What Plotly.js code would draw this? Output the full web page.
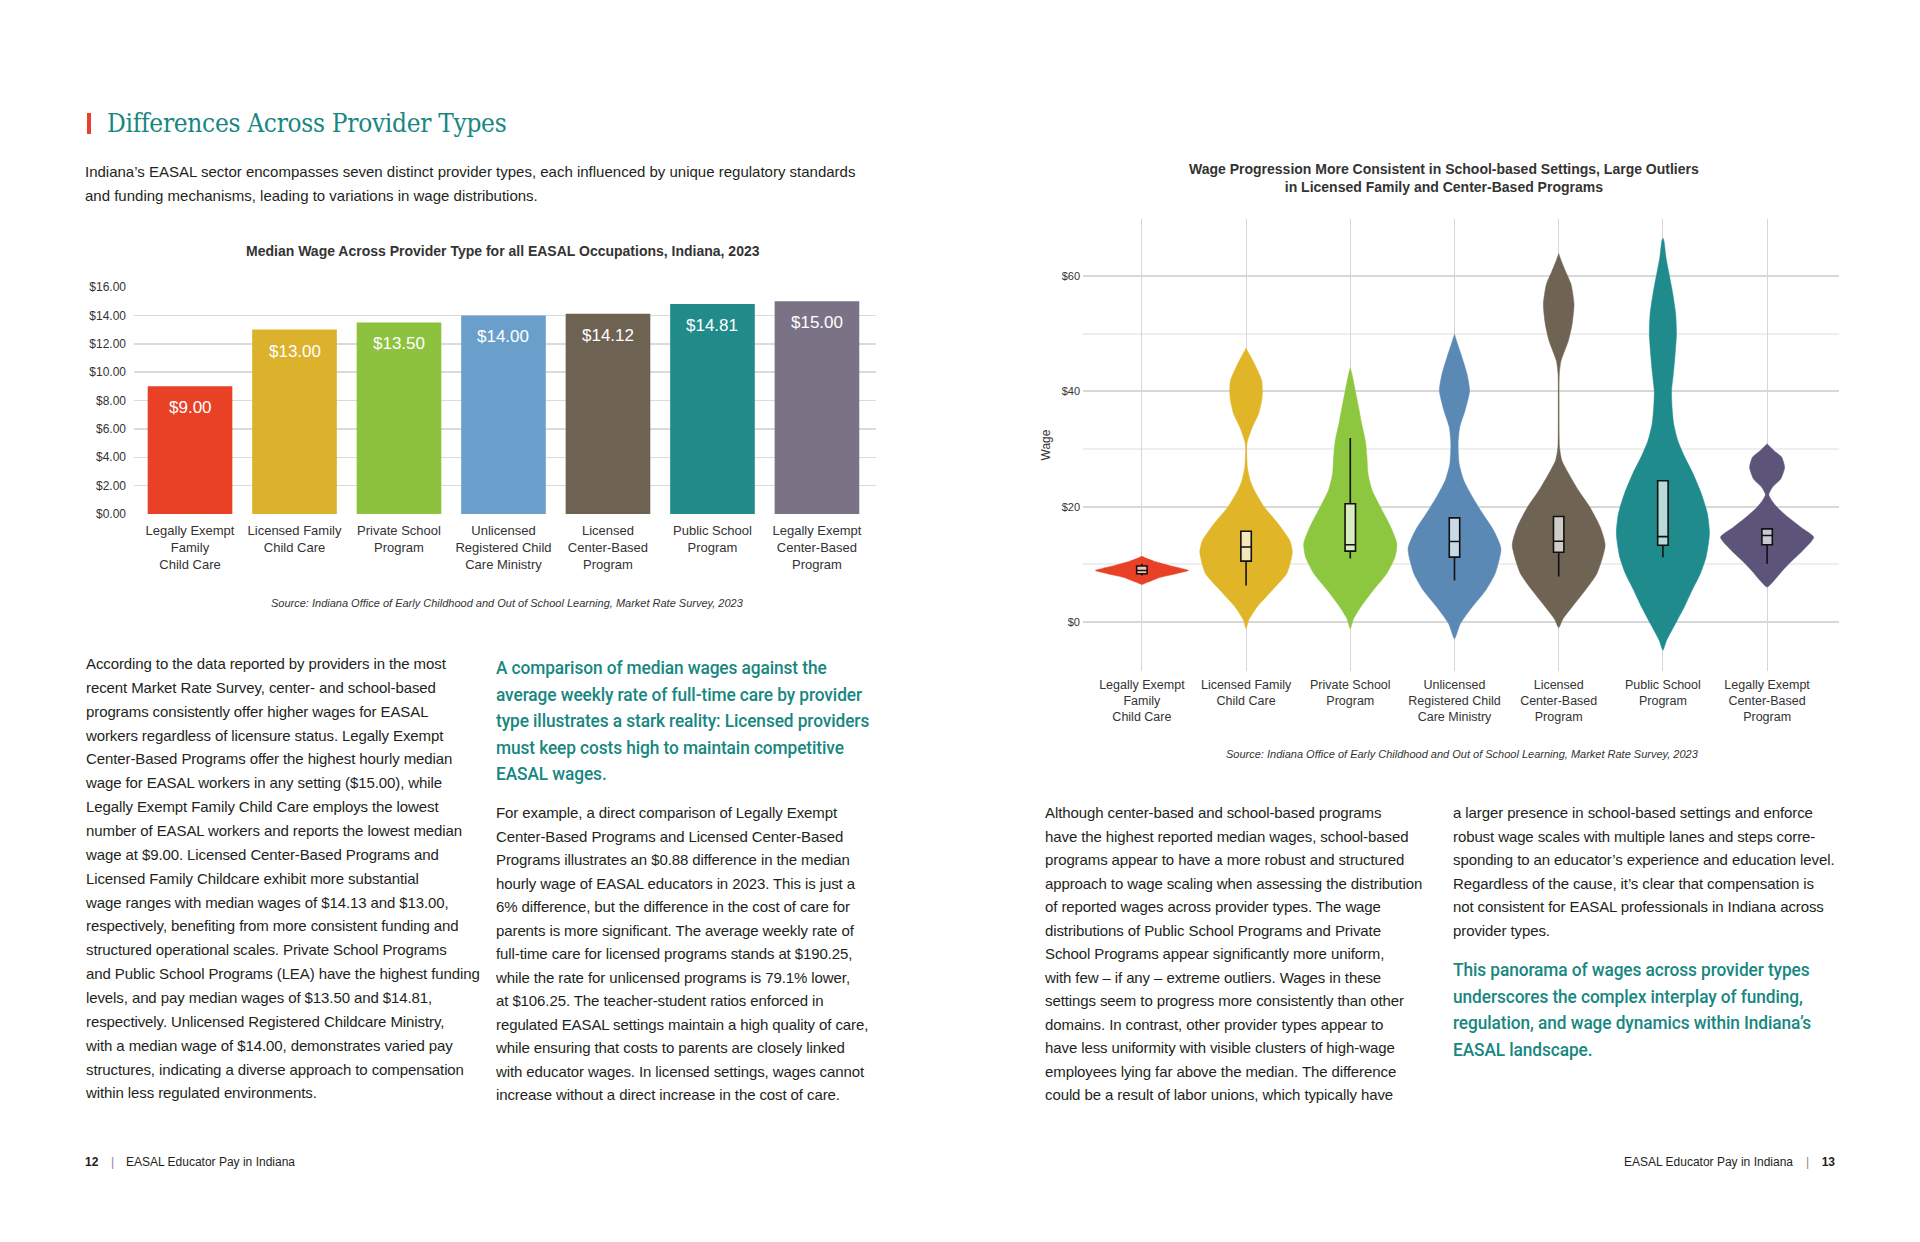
<!DOCTYPE html>
<html>
<head>
<meta charset="utf-8">
<script src="https://cdn.plot.ly/plotly-3.0.1.min.js"></script>
<style>
  html, body { margin: 0; padding: 0; background: #ffffff; }
  #page { position: relative; width: 1920px; height: 1242px; overflow: hidden; background: #fff;
          font-family: "Liberation Sans", Arial, sans-serif; color: #231f20; }
  .abs { position: absolute; white-space: nowrap; }
  .body { font-size: 15px; letter-spacing: -0.1px; }
  .quote { font-family: "Roboto", "Liberation Sans", sans-serif; font-weight: 500; font-size: 19px; color: #17877f;
           letter-spacing: -0.1px; transform: scaleX(0.91); transform-origin: 0 0; }
  .title { font-family: "DejaVu Serif Condensed", "DejaVu Serif", serif; font-size: 26px; color: #17877f; letter-spacing: -0.3px; }
  .foot { font-size: 12px; color: #231f20; line-height: 14px; }
</style>
</head>
<body>
<div id="page">
  <div class="abs" style="left:87px; top:113px; width:4px; height:21px; background:#e8402a;"></div>
  <div class="abs title" style="left:107px; top:106px; line-height:34px;">Differences Across Provider Types</div>
  <div class="abs" style="left:85px; top:160px; line-height:24px; font-size:15px; letter-spacing:0px;">Indiana’s EASAL sector encompasses seven distinct provider types, each influenced by unique regulatory standards<br>and funding mechanisms, leading to variations in wage distributions.</div>

  <div id="barchart" class="abs" style="left:0px; top:220px; width:960px; height:420px;"></div>
  <div id="violinchart" class="abs" style="left:980px; top:140px; width:940px; height:660px;"></div>

  <div class="abs body" style="left:86px; top:652px; line-height:23.86px;">According to the data reported by providers in the most<br>recent Market Rate Survey, center- and school-based<br>programs consistently offer higher wages for EASAL<br>workers regardless of licensure status. Legally Exempt<br>Center-Based Programs offer the highest hourly median<br>wage for EASAL workers in any setting ($15.00), while<br>Legally Exempt Family Child Care employs the lowest<br>number of EASAL workers and reports the lowest median<br>wage at $9.00. Licensed Center-Based Programs and<br>Licensed Family Childcare exhibit more substantial<br>wage ranges with median wages of $14.13 and $13.00,<br>respectively, benefiting from more consistent funding and<br>structured operational scales. Private School Programs<br>and Public School Programs (LEA) have the highest funding<br>levels, and pay median wages of $13.50 and $14.81,<br>respectively. Unlicensed Registered Childcare Ministry,<br>with a median wage of $14.00, demonstrates varied pay<br>structures, indicating a diverse approach to compensation<br>within less regulated environments.</div>

  <div class="abs quote" style="left:496px; top:655px; line-height:26.6px;">A comparison of median wages against the<br>average weekly rate of full-time care by provider<br>type illustrates a stark reality: Licensed providers<br>must keep costs high to maintain competitive<br>EASAL wages.</div>

  <div class="abs body" style="left:496px; top:801px; line-height:23.5px;">For example, a direct comparison of Legally Exempt<br>Center-Based Programs and Licensed Center-Based<br>Programs illustrates an $0.88 difference in the median<br>hourly wage of EASAL educators in 2023. This is just a<br>6% difference, but the difference in the cost of care for<br>parents is more significant. The average weekly rate of<br>full-time care for licensed programs stands at $190.25,<br>while the rate for unlicensed programs is 79.1% lower,<br>at $106.25. The teacher-student ratios enforced in<br>regulated EASAL settings maintain a high quality of care,<br>while ensuring that costs to parents are closely linked<br>with educator wages. In licensed settings, wages cannot<br>increase without a direct increase in the cost of care.</div>

  <div class="abs body" style="left:1045px; top:801px; line-height:23.5px;">Although center-based and school-based programs<br>have the highest reported median wages, school-based<br>programs appear to have a more robust and structured<br>approach to wage scaling when assessing the distribution<br>of reported wages across provider types. The wage<br>distributions of Public School Programs and Private<br>School Programs appear significantly more uniform,<br>with few – if any – extreme outliers. Wages in these<br>settings seem to progress more consistently than other<br>domains. In contrast, other provider types appear to<br>have less uniformity with visible clusters of high-wage<br>employees lying far above the median. The difference<br>could be a result of labor unions, which typically have</div>

  <div class="abs body" style="left:1453px; top:801px; line-height:23.5px;">a larger presence in school-based settings and enforce<br>robust wage scales with multiple lanes and steps corre-<br>sponding to an educator’s experience and education level.<br>Regardless of the cause, it’s clear that compensation is<br>not consistent for EASAL professionals in Indiana across<br>provider types.</div>

  <div class="abs quote" style="left:1453px; top:957px; line-height:26.6px;">This panorama of wages across provider types<br>underscores the complex interplay of funding,<br>regulation, and wage dynamics within Indiana’s<br>EASAL landscape.</div>

  <div class="abs foot" style="left:85px; top:1155px;"><b>12</b></div>
  <div class="abs foot" style="left:111px; top:1155px; color:#888;">|</div>
  <div class="abs foot" style="left:126px; top:1155px;">EASAL Educator Pay in Indiana</div>
  <div class="abs foot" style="right:85px; top:1155px;"><b>13</b></div>
  <div class="abs foot" style="right:111px; top:1155px; color:#888;">|</div>
  <div class="abs foot" style="right:127px; top:1155px;">EASAL Educator Pay in Indiana</div>
</div>

<script>
// ---------- DATA ----------
const providerTypes = [
  'Legally Exempt<br>Family<br>Child Care',
  'Licensed Family<br>Child Care',
  'Private School<br>Program',
  'Unlicensed<br>Registered Child<br>Care Ministry',
  'Licensed<br>Center-Based<br>Program',
  'Public School<br>Program',
  'Legally Exempt<br>Center-Based<br>Program'
];
const medianWages = [9.00, 13.00, 13.50, 14.00, 14.12, 14.81, 15.00];
const wageTicks = [0, 2, 4, 6, 8, 10, 12, 14, 16];

// Violin density outlines: wage levels and half-widths (in category units)
const lefcLevels  = [6.5, 6.8, 7.2, 7.7, 8.1, 8.6, 8.94, 9.3, 9.8, 10.3, 10.6, 11.0, 11.4];
const lefcWidths  = [0, 0.04, 0.10, 0.17, 0.26, 0.38, 0.447, 0.38, 0.26, 0.16, 0.11, 0.05, 0];
const lfccLevels  = [-1.15, 0.3, 2.6, 5.5, 8.4, 12.1, 14.1, 17, 19.9, 22.8, 24.5, 26.8, 29.1, 30.3, 31.4, 33.8, 36.1, 38.4, 40, 41.9, 44.2, 45.9, 47.5];
const lfccWidths  = [0, 0.025, 0.105, 0.25, 0.39, 0.444, 0.42, 0.31, 0.176, 0.08, 0.04, 0.013, 0.006, 0.005, 0.013, 0.06, 0.12, 0.15, 0.157, 0.15, 0.096, 0.048, 0];
const pspLevels   = [-1.15, 0.5, 2.6, 5.5, 8.4, 11.3, 13.6, 16.4, 19.9, 22.8, 25.7, 28.6, 31.4, 34.3, 37.2, 40.1, 43, 44.1];
const pspWidths   = [0, 0.03, 0.10, 0.22, 0.35, 0.43, 0.447, 0.39, 0.29, 0.21, 0.17, 0.16, 0.145, 0.11, 0.08, 0.048, 0.016, 0];
const urccmLevels = [-2.9, -0.3, 2.6, 5.5, 8.4, 12.7, 15.9, 18.8, 21.6, 24.5, 27.4, 30.9, 33.8, 36.6, 40.1, 43, 45.9, 48.2, 49.9];
const urccmWidths = [0, 0.056, 0.17, 0.30, 0.39, 0.446, 0.375, 0.27, 0.175, 0.09, 0.045, 0.035, 0.05, 0.10, 0.145, 0.12, 0.072, 0.03, 0];
const lcbpLevels  = [-1.0, 0.5, 2.6, 5.5, 8.4, 13.3, 16.4, 19.9, 22.8, 25.7, 28, 30.3, 37.2, 43, 45.3, 48.8, 51.6, 55.1, 58.6, 60.9, 62.6, 63.9];
const lcbpWidths  = [0, 0.04, 0.128, 0.255, 0.367, 0.446, 0.40, 0.30, 0.19, 0.096, 0.03, 0.008, 0.004, 0.006, 0.022, 0.093, 0.128, 0.147, 0.118, 0.064, 0.025, 0];
const pubLevels   = [-4.9, -3.2, -0.3, 2.6, 5.5, 8.4, 11.3, 15.3, 18.8, 22.2, 25.7, 28.6, 31.4, 34.3, 37.2, 40.1, 43, 45.9, 49.9, 53.4, 56.8, 60.3, 63.2, 66.1, 66.6];
const pubWidths   = [0, 0.035, 0.12, 0.205, 0.28, 0.36, 0.415, 0.447, 0.427, 0.37, 0.29, 0.21, 0.144, 0.104, 0.088, 0.083, 0.10, 0.115, 0.13, 0.123, 0.096, 0.06, 0.03, 0.01, 0];
const lecbLevels  = [6.06, 7.2, 8.9, 10.7, 12.4, 14.7, 16.4, 18.2, 19.9, 21.1, 22.1, 23.4, 24.8, 26.8, 28.6, 29.7, 30.9];
const lecbWidths  = [0, 0.067, 0.147, 0.243, 0.343, 0.447, 0.327, 0.20, 0.096, 0.043, 0.016, 0.053, 0.13, 0.168, 0.139, 0.067, 0];

// Box statistics
const boxQ1     = [8.37, 10.56, 12.3, 11.25, 12.1, 13.3, 13.4];
const boxMedian = [8.94, 13.0, 13.4, 13.96, 14.0, 14.8, 15.0];
const boxQ3     = [9.7, 15.75, 20.5, 18.06, 18.3, 24.5, 16.15];
const boxLow    = [8.08, 6.35, 11.0, 7.2, 7.9, 11.25, 10.1];
const boxHigh   = [10.1, 15.75, 31.9, 18.06, 18.3, 24.5, 16.15];
const violinTicks = [0, 20, 40, 60];
const violinMinorTicks = [10, 30, 50];

// ---------- STYLE ----------
const barColors    = ['#e84126', '#dcb12b', '#8dc23f', '#6a9ecb', '#6e6253', '#218b8a', '#7b7286'];
const violinColors = ['#e84126', '#e0b628', '#8dc63f', '#5b89b5', '#6f6353', '#1f8b8c', '#5d5479'];
const FONT = '"Liberation Sans", Arial, sans-serif';
const SOURCE = '<i>Source: Indiana Office of Early Childhood and Out of School Learning, Market Rate Survey, 2023</i>';

// ---------- BAR CHART ----------
const idx = providerTypes.map((_, i) => i);
const barTrace = {
  type: 'bar', x: idx, y: medianWages, width: 0.81,
  marker: { color: barColors }, hoverinfo: 'skip', showlegend: false
};
const barLabels = medianWages.map((v, i) => ({
  x: i, y: v, xref: 'x', yref: 'y', text: '$' + v.toFixed(2), showarrow: false,
  yanchor: 'top', yshift: -10, font: { family: FONT, size: 17, color: '#ffffff' }
}));
const barLayout = {
  width: 960, height: 420,
  margin: { l: 134, r: 84, t: 67, b: 125.5 },
  paper_bgcolor: 'rgba(0,0,0,0)', plot_bgcolor: 'rgba(0,0,0,0)',
  font: { family: FONT, color: '#333' },
  title: { text: '<b>Median Wage Across Provider Type for all EASAL Occupations, Indiana, 2023</b>',
           font: { family: FONT, size: 14, color: '#333' }, x: 0.497, xref: 'paper', y: 0.926, yref: 'container', yanchor: 'middle' },
  xaxis: { range: [-0.536, 6.565], tickmode: 'array', tickvals: idx, ticktext: providerTypes, showgrid: false, zeroline: false,
           ticks: '', showline: false, tickfont: { size: 13, color: '#333' }, ticklabelstandoff: 7, fixedrange: true },
  yaxis: { range: [0, 16], tickmode: 'array', tickvals: wageTicks, ticktext: wageTicks.map(v => '$' + v.toFixed(2)),
           showgrid: true, gridcolor: '#dadada', gridwidth: 1.5, zeroline: false, showline: false, ticks: '',
           tickfont: { size: 12, color: '#333' }, ticklabelstandoff: 7, fixedrange: true },
  annotations: barLabels.concat([{
    text: SOURCE, x: 0.504, y: -0.393, xref: 'paper', yref: 'paper', showarrow: false, yanchor: 'middle',
    font: { family: FONT, size: 11, color: '#333' }
  }])
};
Plotly.newPlot('barchart', [barTrace], barLayout, { staticPlot: true, displayModeBar: false });

// ---------- VIOLIN CHART ----------
const profiles = [
  [lefcLevels, lefcWidths], [lfccLevels, lfccWidths], [pspLevels, pspWidths], [urccmLevels, urccmWidths],
  [lcbpLevels, lcbpWidths], [pubLevels, pubWidths], [lecbLevels, lecbWidths]
];
const violinTraces = profiles.map(([lv, wd], i) => {
  const n = lv.length;
  const xs = lv.map((_, k) => i + wd[k]).concat(lv.map((_, k) => i - wd[n - 1 - k]));
  const ys = lv.concat(lv.map((_, k) => lv[n - 1 - k]));
  return { type: 'scatter', mode: 'lines', x: xs, y: ys, fill: 'toself', fillcolor: violinColors[i],
           line: { color: violinColors[i], width: 0.5, shape: 'spline', smoothing: 0.6 },
           hoverinfo: 'skip', showlegend: false };
});
// boxes go on an overlaid subplot so they are drawn on top of the violin fills
const boxTraces = idx.map(i => ({
  type: 'box', orientation: 'v', xaxis: 'x2', yaxis: 'y2',
  x: [i], q1: [boxQ1[i]], median: [boxMedian[i]], q3: [boxQ3[i]],
  lowerfence: [boxLow[i]], upperfence: [boxHigh[i]], width: 0.1, whiskerwidth: 0,
  fillcolor: 'rgba(255,255,255,0.68)', line: { color: '#111111', width: 1.6 },
  hoverinfo: 'skip', showlegend: false, boxpoints: false
}));
const VX = [-0.565, 6.69], VY = [-8.5, 69.9];
const violinLayout = {
  width: 940, height: 660,
  margin: { l: 103, r: 81, t: 79, b: 129 },
  paper_bgcolor: 'rgba(0,0,0,0)', plot_bgcolor: 'rgba(0,0,0,0)',
  font: { family: FONT, color: '#333' },
  boxmode: 'overlay',
  title: { text: '<b>Wage Progression More Consistent in School-based Settings, Large Outliers<br>in Licensed Family and Center-Based Programs</b>',
           font: { family: FONT, size: 14, color: '#333' }, x: 0.4935, xref: 'container', y: 0.949, yref: 'container', yanchor: 'middle' },
  xaxis: { range: VX, tickmode: 'array', tickvals: idx, ticktext: providerTypes, showgrid: true, gridcolor: '#d6d6d6', gridwidth: 1,
           zeroline: false, ticks: '', showline: false, tickfont: { size: 12.5, color: '#333' }, ticklabelstandoff: 4, fixedrange: true },
  yaxis: { range: VY, tickmode: 'array', tickvals: violinTicks, ticktext: violinTicks.map(v => '$' + v),
           showgrid: true, gridcolor: '#d8d8d8', gridwidth: 2,
           minor: { tickmode: 'array', tickvals: violinMinorTicks, showgrid: true, gridcolor: '#eeeeee', gridwidth: 2 },
           zeroline: false, showline: false, ticks: '', tickfont: { size: 11, color: '#333' }, ticklabelstandoff: 2,
           title: { text: 'Wage', font: { size: 12, color: '#333' }, standoff: 8 }, fixedrange: true },
  xaxis2: { range: VX, overlaying: 'x', visible: false, showgrid: false, zeroline: false, fixedrange: true },
  yaxis2: { range: VY, overlaying: 'y', visible: false, showgrid: false, zeroline: false, fixedrange: true },
  annotations: [{
    text: SOURCE, x: 0.502, y: -0.184, xref: 'paper', yref: 'paper', showarrow: false, yanchor: 'middle',
    font: { family: FONT, size: 11, color: '#333' }
  }]
};
Plotly.newPlot('violinchart', violinTraces.concat(boxTraces), violinLayout, { staticPlot: true, displayModeBar: false });
</script>
</body>
</html>
